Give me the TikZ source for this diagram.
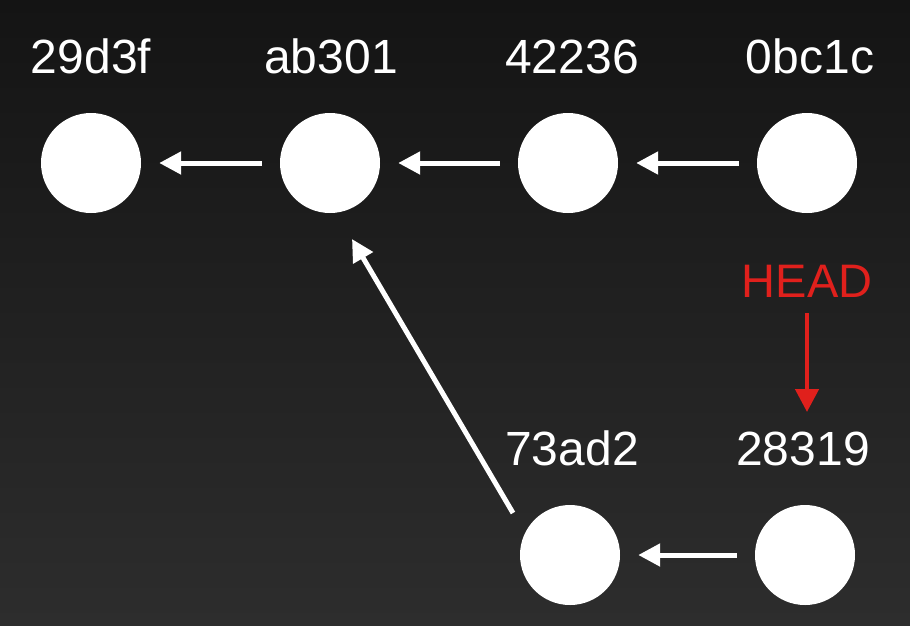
\documentclass[tikz,border=0pt]{standalone}
\usepackage{fontspec}
\setmainfont{Liberation Sans}
\usetikzlibrary{arrows.meta}
\definecolor{bgtop}{HTML}{141414}
\definecolor{bgbot}{HTML}{2D2D2D}
\definecolor{headred}{HTML}{E0201C}
\tikzset{
  commit/.style={circle, fill=white, draw=none, minimum size=100pt, inner sep=0pt},
  lbl/.style={text=white, anchor=base, inner sep=0pt, font=\fontsize{48}{50}\selectfont},
  arr/.style={draw=white, line width=5pt, -{Triangle[length=22pt,width=22pt]}, shorten <=18pt, shorten >=18pt},
  redarr/.style={draw=headred, line width=4.5pt, -{Triangle[length=23pt,width=23pt]}}
}
\begin{document}
\begin{tikzpicture}[x=1pt,y=-1pt]
\shade[top color=bgtop, bottom color=bgbot] (0,0) rectangle (910,625);
\useasboundingbox (0,0) rectangle (910,625);
% commits
\node[commit] (c1) at (91,163) {};
\node[commit] (c2) at (330,163) {};
\node[commit] (c3) at (568,163) {};
\node[commit] (c4) at (807,163) {};
\node[commit] (c5) at (570,555) {};
\node[commit] (c6) at (805,555) {};
% labels
\node[lbl] (l1) at (91,73) {29d3f};
\node[lbl] (l2) at (331,73) {ab301};
\node[lbl] (l3) at (572,73) {42236};
\node[lbl] (l4) at (810,73) {0bc1c};
\node[lbl] (l5) at (572,465) {73ad2};
\node[lbl] (l6) at (803,465) {28319};
\node[text=headred, anchor=base, inner sep=0pt, font=\fontsize{47}{49}\selectfont] (head) at (807,297) {HEAD};
% arrows
\draw[arr] (c2) -- (c1);
\draw[arr] (c3) -- (c2);
\draw[arr] (c4) -- (c3);
\draw[arr] (c6) -- (c5);
\draw[draw=white, line width=5pt, -{Triangle[length=22pt,width=22pt]}]
  ([shift={(-57,-42)}]c5.center) -- ([shift={(22,76)}]c2.center);
\draw[redarr] ([yshift=-16pt]head.base) -- ([yshift=53pt]l6.base -| head.base);
\end{tikzpicture}
\end{document}
